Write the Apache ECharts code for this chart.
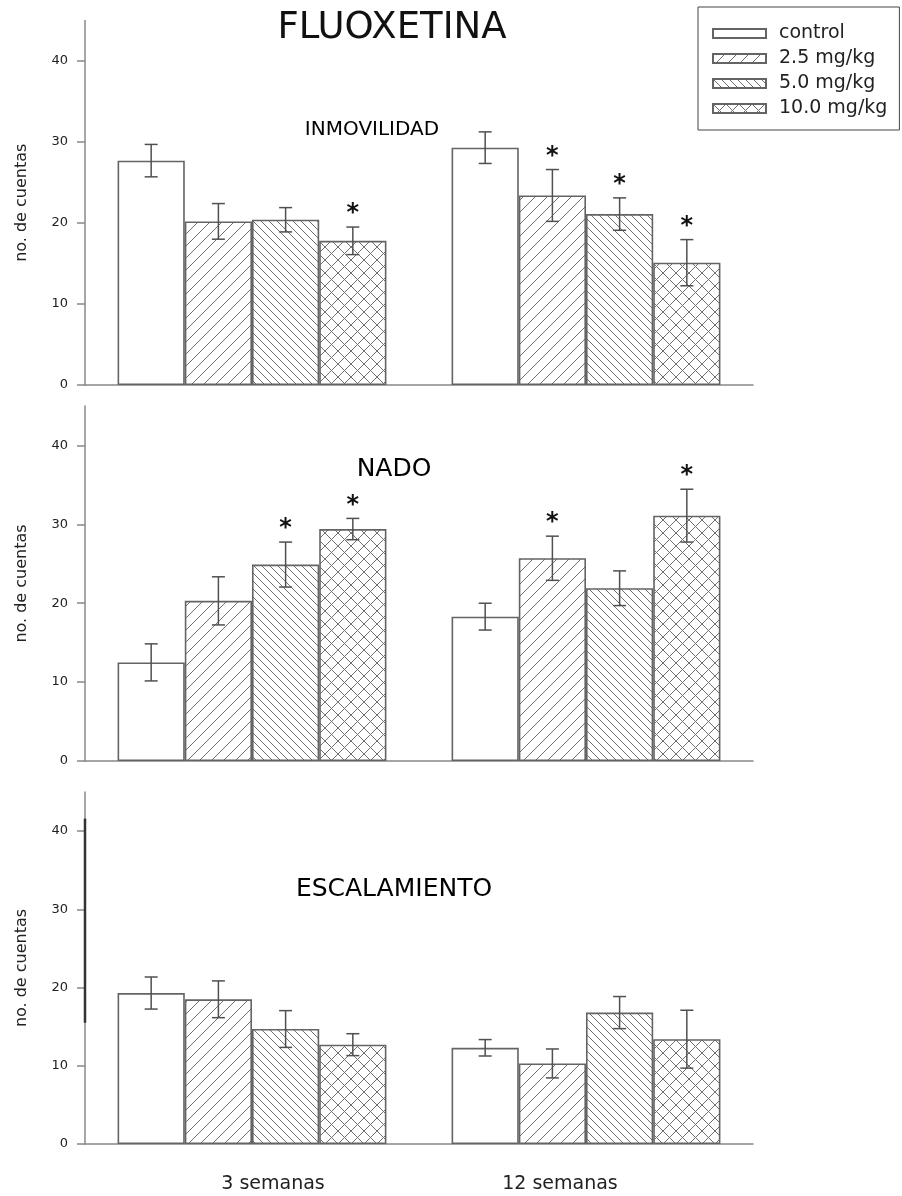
<!DOCTYPE html>
<html><head><meta charset="utf-8">
<script src="https://cdn.jsdelivr.net/npm/echarts@6/dist/echarts.min.js"></script>
<style>html,body{margin:0;padding:0;background:#fff}#c{width:902px;height:1196px}</style>
</head><body><div id="c"></div>
<script>
// ---------------- data ----------------
const categories = ['3 semanas', '12 semanas'];
const doses = ['control', '2.5 mg/kg', '5.0 mg/kg', '10.0 mg/kg'];
const panelTitles = ['INMOVILIDAD', 'NADO', 'ESCALAMIENTO'];
const mainTitle = 'FLUOXETINA';
const yName = 'no. de cuentas';
const yTicks = [0, 10, 20, 30, 40];
// rows = category (3 / 12 semanas), cols = dose
const inmovMean = [[27.7, 20.2, 20.4, 17.8], [29.3, 23.4, 21.1, 15.1]];
const inmovSE   = [[2.0, 2.2, 1.5, 1.7],     [1.95, 3.2, 2.0, 2.85]];
const inmovSig  = [[0, 0, 0, 1],             [0, 1, 1, 1]];
const nadoMean  = [[12.5, 20.3, 24.9, 29.4], [18.3, 25.7, 21.9, 31.1]];
const nadoSE    = [[2.35, 3.05, 2.85, 1.35], [1.7, 2.8, 2.2, 3.35]];
const nadoSig   = [[0, 0, 1, 1],             [0, 1, 0, 1]];
const escMean   = [[19.3, 18.5, 14.7, 12.7], [12.3, 10.3, 16.8, 13.4]];
const escSE     = [[2.05, 2.35, 2.35, 1.4],  [1.05, 1.85, 2.05, 3.7]];
const escSig    = [[0, 0, 0, 0],             [0, 0, 0, 0]];
const escAxisMark = [15.5, 41.6]; // dark segment on the scanned y axis
const panels = [
  {mean: inmovMean, se: inmovSE, sig: inmovSig},
  {mean: nadoMean, se: nadoSE, sig: nadoSig},
  {mean: escMean, se: escSE, sig: escSig}
];

// ---------------- style / layout ----------------
const FONT = '"DejaVu Sans", sans-serif';
const GAP = 0.195;
const CAP = 13;
const gridLayout = [
  {left: 85, width: 668, top: 20.5, height: 364.5},
  {left: 85, width: 668, top: 406, height: 355},
  {left: 85, width: 668, top: 792, height: 352}
];
const titlePos = [[372, 130], [394, 469], [394, 889]];
const titleSize = [20, 25, 25];

function pattern(kind, s) {
  const c = document.createElement('canvas');
  c.width = s; c.height = s;
  const g = c.getContext('2d');
  g.fillStyle = '#fff'; g.fillRect(0, 0, s, s);
  g.strokeStyle = '#707070'; g.lineWidth = 1;
  const fwd = () => { for (const k of [-s, 0, s]) { g.beginPath(); g.moveTo(k, s); g.lineTo(k + s, 0); g.stroke(); } };
  const back = () => { for (const k of [-s, 0, s]) { g.beginPath(); g.moveTo(k, 0); g.lineTo(k + s, s); g.stroke(); } };
  if (kind === 'fwd') fwd(); else if (kind === 'back') back(); else { fwd(); back(); }
  return {image: c, repeat: 'repeat'};
}
const fills = ['#ffffff', pattern('fwd', 12), pattern('back', 8), pattern('cross', 13)];

const grids = gridLayout.map(g => Object.assign({containLabel: false, outerBoundsMode: 'none'}, g));
const xAxes = panels.map((p, i) => ({
  type: 'category', gridIndex: i, data: categories,
  axisLine: {lineStyle: {color: '#888', width: 1.5}},
  axisTick: {show: false},
  axisLabel: {
    show: i === 2, margin: 31,
    formatter: (v, idx) => (idx === 0 ? '{a|' + v + '}' : '{b|' + v + '}'),
    rich: {
      a: {fontFamily: FONT, fontSize: 19, color: '#222', padding: [0, 0, 0, 42]},
      b: {fontFamily: FONT, fontSize: 19, color: '#222', padding: [0, 52, 0, 0]}
    }
  },
  splitLine: {show: false}
}));
const yAxes = panels.map((p, i) => ({
  type: 'value', gridIndex: i, min: 0, max: 45,
  name: yName, nameLocation: 'middle', nameGap: 55,
  nameTextStyle: {fontFamily: FONT, fontSize: 16, color: '#222'},
  axisLine: {show: true, lineStyle: {color: '#888', width: 1.5}},
  axisTick: {show: true, customValues: yTicks, length: 8, lineStyle: {color: '#888', width: 1.5}},
  axisLabel: {customValues: yTicks, margin: 17, fontFamily: FONT, fontSize: 13, color: '#222'},
  splitLine: {show: false}
}));

const series = [];
panels.forEach((p, pi) => {
  doses.forEach((d, di) => {
    series.push({
      type: 'bar', name: d, xAxisIndex: pi, yAxisIndex: pi,
      data: p.mean.map(row => row[di]),
      barGap: '0%', barCategoryGap: (GAP * 100) + '%',
      itemStyle: {color: fills[di], borderColor: '#646464', borderWidth: 1.6},
      silent: true, emphasis: {disabled: true}, z: 2
    });
  });
  const errData = [];
  p.mean.forEach((row, ci) => row.forEach((m, di) => errData.push([ci, di, m, p.se[ci][di], p.sig[ci][di]])));
  series.push({
    type: 'custom', xAxisIndex: pi, yAxisIndex: pi, z: 5, silent: true,
    encode: {x: 0, y: 2},
    data: errData,
    renderItem(params, api) {
      const c = api.value(0), d = api.value(1), m = api.value(2), se = api.value(3), sig = api.value(4);
      const base = api.coord([c, m]);
      const band = api.size([1, 0])[0];
      const bw = band * (1 - GAP) / 4;
      const x = base[0] + (d - 1.5) * bw;
      const yt = api.coord([c, m + se])[1];
      const yb = api.coord([c, m - se])[1];
      const h = CAP / 2;
      const st = {stroke: '#505050', lineWidth: 1.5};
      const children = [
        {type: 'line', shape: {x1: x, y1: yt, x2: x, y2: yb}, style: st},
        {type: 'line', shape: {x1: x - h, y1: yt, x2: x + h, y2: yt}, style: st},
        {type: 'line', shape: {x1: x - h, y1: yb, x2: x + h, y2: yb}, style: st}
      ];
      if (sig) children.push({type: 'text', style: {text: '*', x: x, y: yt - 13, textAlign: 'center', textVerticalAlign: 'middle', font: 'bold 24px ' + FONT, fill: '#111'}});
      return {type: 'group', children};
    }
  });
});
// scan artifact on the bottom panel's y axis
series.push({
  type: 'custom', xAxisIndex: 2, yAxisIndex: 2, z: 6, silent: true,
  encode: {x: 0, y: 1},
  data: [[0, escAxisMark[0], escAxisMark[1]]],
  renderItem(params, api) {
    const x = params.coordSys.x;
    const y1 = api.coord([0, api.value(1)])[1];
    const y2 = api.coord([0, api.value(2)])[1];
    return {type: 'line', shape: {x1: x, y1: y1, x2: x, y2: y2}, style: {stroke: '#333', lineWidth: 2.5}};
  }
});

const graphics = [{type: 'text', x: 392, y: 28, style: {text: mainTitle, font: '37px ' + FONT, fill: '#111', textAlign: 'center', textVerticalAlign: 'middle'}}];
panelTitles.forEach((t, i) => graphics.push({type: 'text', x: titlePos[i][0], y: titlePos[i][1], style: {text: t, font: titleSize[i] + 'px ' + FONT, fill: '#000', textAlign: 'center', textVerticalAlign: 'middle'}}));

const chart = echarts.init(document.getElementById('c'), null, {renderer: 'canvas'});
chart.setOption({
  animation: false,
  backgroundColor: '#fff',
  grid: grids, xAxis: xAxes, yAxis: yAxes, series,
  legend: {
    data: doses, orient: 'vertical', left: 698, top: 7,
    itemWidth: 53, itemHeight: 9, itemGap: 6, icon: 'rect',
    padding: [17, 12, 12, 14], borderColor: '#444', borderWidth: 1,
    selectedMode: false,
    textStyle: {fontFamily: FONT, fontSize: 19, color: '#222', padding: [0, 0, 0, 8]}
  },
  graphic: graphics
});
</script></body></html>
